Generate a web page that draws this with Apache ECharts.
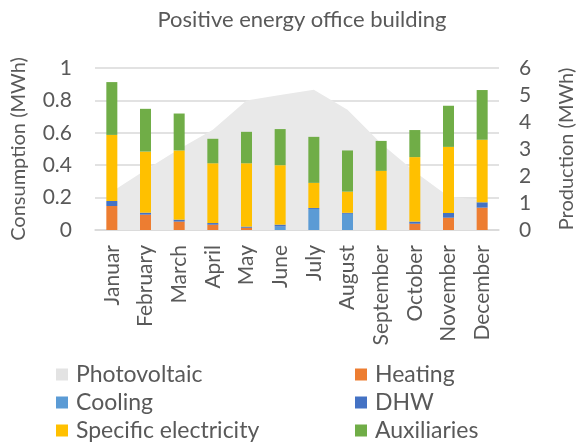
<!DOCTYPE html>
<html>
  <head>
    <title>Positive energy office building</title>
    <meta charset='utf-8' />
    <script src="https://cdn.jsdelivr.net/npm/echarts@6/dist/echarts.min.js"></script>
    <style>
      html, body { margin: 0; padding: 0; background: #fff; }
    </style>
  </head>
  <body>
    <div id="content" style="width: 585px; height: 444px;"></div>

    <script type="text/javascript">
      // months on the x axis
      var months = ['Januar', 'February', 'March', 'April', 'May', 'June', 'July',
                    'August', 'September', 'October', 'November', 'December'];

      // consumption in MWh (left axis), stacked bottom to top
      var heating  = [0.148, 0.095, 0.052, 0.033, 0.014, 0, 0, 0, 0, 0.039, 0.076, 0.138];
      var cooling  = [0, 0, 0, 0, 0, 0.021, 0.130, 0.100, 0, 0, 0, 0];
      var dhw      = [0.031, 0.012, 0.012, 0.010, 0.007, 0.012, 0.006, 0.006, 0, 0.013, 0.029, 0.033];
      var specific = [0.408, 0.377, 0.427, 0.369, 0.391, 0.367, 0.155, 0.131, 0.365, 0.398, 0.408, 0.386];
      var auxil    = [0.326, 0.264, 0.228, 0.151, 0.194, 0.223, 0.284, 0.254, 0.185, 0.167, 0.254, 0.307];

      // production in MWh (right axis)
      var photovoltaic = [1.42, 2.22, 3.00, 3.71, 4.80, 5.00, 5.19, 4.45, 3.20, 2.16, 1.24, 1.11];

      var FONT = 'Lato';
      var GREY = '#595959';

      function barSeries(name, data, color) {
        return {
          name: name,
          type: 'bar',
          stack: 'cons',
          barWidth: 11,
          z: 3,
          itemStyle: {color: color},
          data: data
        };
      }

      // one small legend per entry, placed on a 2 x 3 grid
      function legendItem(left, top, name) {
        return {
          left: left, top: top,
          padding: 0,
          icon: 'rect',
          itemWidth: 12, itemHeight: 12,
          textStyle: {fontFamily: FONT, fontSize: 23, lineHeight: 20, color: GREY,
                      padding: [0, 0, 0, 3]},
          data: [name]
        };
      }

      var myChart = echarts.init(document.getElementById('content'));
      var options = {
        animation: false,
        textStyle: {fontFamily: FONT},
        title: {
          text: 'Positive energy office building',
          left: 297,
          textAlign: 'center',
          top: 4,
          textStyle: {fontFamily: FONT, fontSize: 22, fontWeight: 'normal', color: GREY}
        },
        grid: {left: 95, right: 85, top: 68, bottom: 214},
        legend: [
          legendItem(56, 363, 'Photovoltaic'),
          legendItem(56, 391, 'Cooling'),
          legendItem(56, 419, 'Specific electricity'),
          legendItem(355, 363, 'Heating'),
          legendItem(355, 391, 'DHW'),
          legendItem(355, 419, 'Auxiliaries')
        ],
        xAxis: {
          type: 'category',
          data: months,
          axisTick: {show: false},
          axisLine: {lineStyle: {color: '#d9d9d9', width: 1.5}},
          axisLabel: {rotate: 90, margin: 15, fontFamily: FONT, fontSize: 21, color: GREY}
        },
        yAxis: [{
          type: 'value',
          min: 0, max: 1, interval: 0.2,
          name: 'Consumption (MWh)',
          nameLocation: 'middle',
          nameGap: 66,
          nameTextStyle: {fontFamily: FONT, fontSize: 20, color: GREY},
          axisLabel: {margin: 23, fontFamily: FONT, fontSize: 21, color: GREY},
          splitLine: {lineStyle: {color: '#d9d9d9', width: 1.5}}
        }, {
          type: 'value',
          min: 0, max: 6, interval: 1,
          name: 'Production (MWh)',
          nameLocation: 'middle',
          nameGap: 58,
          nameTextStyle: {fontFamily: FONT, fontSize: 20, color: GREY},
          axisLabel: {margin: 20, fontFamily: FONT, fontSize: 21, color: GREY},
          splitLine: {show: false}
        }],
        series: [{
          name: 'Photovoltaic',
          type: 'line',
          yAxisIndex: 1,
          z: 1,
          symbol: 'none',
          lineStyle: {width: 0},
          itemStyle: {color: '#e3e3e3'},
          areaStyle: {color: '#e9e9e9', opacity: 1},
          data: photovoltaic
        },
          barSeries('Heating', heating, '#ED7D31'),
          barSeries('Cooling', cooling, '#5B9BD5'),
          barSeries('DHW', dhw, '#4472C4'),
          barSeries('Specific electricity', specific, '#FFC000'),
          barSeries('Auxiliaries', auxil, '#70AD47')
        ]
      };
      myChart.setOption(options);
    </script>
  </body>
</html>
